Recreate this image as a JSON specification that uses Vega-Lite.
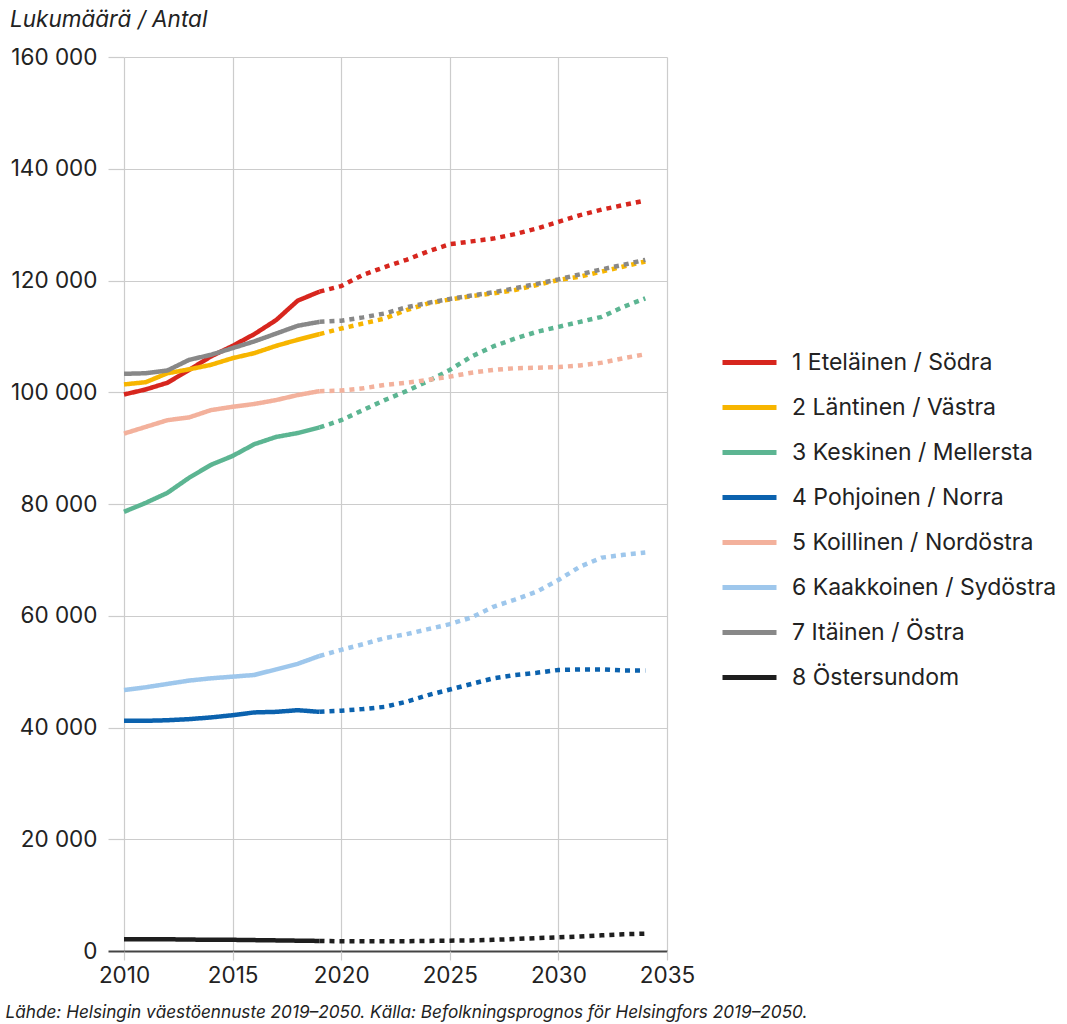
{
  "$schema": "https://vega.github.io/schema/vega-lite/v6.json",
  "autosize": "none",
  "width": 543,
  "height": 894,
  "padding": {"left": 124, "top": 57, "right": 400, "bottom": 73},
  "background": "white",
  "config": {
    "font": "Inter",
    "view": {"stroke": null},
    "title": {"font": "Inter"}
  },
  "title": {
    "text": "Lukumäärä / Antal",
    "anchor": "start",
    "frame": "group",
    "fontStyle": "italic",
    "fontWeight": "normal",
    "fontSize": 22.5,
    "color": "#222222",
    "dx": -114,
    "offset": 15
  },
  "data": {
    "values": [
      {"region": "1 Eteläinen / Södra", "kind": "toteutunut", "year": 2010, "value": 99600},
      {"region": "1 Eteläinen / Södra", "kind": "toteutunut", "year": 2011, "value": 100500},
      {"region": "1 Eteläinen / Södra", "kind": "toteutunut", "year": 2012, "value": 101700},
      {"region": "1 Eteläinen / Södra", "kind": "toteutunut", "year": 2013, "value": 104000},
      {"region": "1 Eteläinen / Södra", "kind": "toteutunut", "year": 2014, "value": 106400},
      {"region": "1 Eteläinen / Södra", "kind": "toteutunut", "year": 2015, "value": 108300},
      {"region": "1 Eteläinen / Södra", "kind": "toteutunut", "year": 2016, "value": 110400},
      {"region": "1 Eteläinen / Södra", "kind": "toteutunut", "year": 2017, "value": 112900},
      {"region": "1 Eteläinen / Södra", "kind": "toteutunut", "year": 2018, "value": 116400},
      {"region": "1 Eteläinen / Södra", "kind": "toteutunut", "year": 2019, "value": 118000},
      {"region": "1 Eteläinen / Södra", "kind": "ennuste", "year": 2019, "value": 118000},
      {"region": "1 Eteläinen / Södra", "kind": "ennuste", "year": 2020, "value": 119000},
      {"region": "1 Eteläinen / Södra", "kind": "ennuste", "year": 2021, "value": 121000},
      {"region": "1 Eteläinen / Södra", "kind": "ennuste", "year": 2022, "value": 122400},
      {"region": "1 Eteläinen / Södra", "kind": "ennuste", "year": 2023, "value": 123700},
      {"region": "1 Eteläinen / Södra", "kind": "ennuste", "year": 2024, "value": 125200},
      {"region": "1 Eteläinen / Södra", "kind": "ennuste", "year": 2025, "value": 126500},
      {"region": "1 Eteläinen / Södra", "kind": "ennuste", "year": 2026, "value": 127000},
      {"region": "1 Eteläinen / Södra", "kind": "ennuste", "year": 2027, "value": 127500},
      {"region": "1 Eteläinen / Södra", "kind": "ennuste", "year": 2028, "value": 128300},
      {"region": "1 Eteläinen / Södra", "kind": "ennuste", "year": 2029, "value": 129300},
      {"region": "1 Eteläinen / Södra", "kind": "ennuste", "year": 2030, "value": 130500},
      {"region": "1 Eteläinen / Södra", "kind": "ennuste", "year": 2031, "value": 131700},
      {"region": "1 Eteläinen / Södra", "kind": "ennuste", "year": 2032, "value": 132700},
      {"region": "1 Eteläinen / Södra", "kind": "ennuste", "year": 2033, "value": 133500},
      {"region": "1 Eteläinen / Södra", "kind": "ennuste", "year": 2034, "value": 134300},

      {"region": "2 Läntinen / Västra", "kind": "toteutunut", "year": 2010, "value": 101400},
      {"region": "2 Läntinen / Västra", "kind": "toteutunut", "year": 2011, "value": 101800},
      {"region": "2 Läntinen / Västra", "kind": "toteutunut", "year": 2012, "value": 103400},
      {"region": "2 Läntinen / Västra", "kind": "toteutunut", "year": 2013, "value": 104100},
      {"region": "2 Läntinen / Västra", "kind": "toteutunut", "year": 2014, "value": 104900},
      {"region": "2 Läntinen / Västra", "kind": "toteutunut", "year": 2015, "value": 106100},
      {"region": "2 Läntinen / Västra", "kind": "toteutunut", "year": 2016, "value": 107000},
      {"region": "2 Läntinen / Västra", "kind": "toteutunut", "year": 2017, "value": 108300},
      {"region": "2 Läntinen / Västra", "kind": "toteutunut", "year": 2018, "value": 109400},
      {"region": "2 Läntinen / Västra", "kind": "toteutunut", "year": 2019, "value": 110400},
      {"region": "2 Läntinen / Västra", "kind": "ennuste", "year": 2019, "value": 110400},
      {"region": "2 Läntinen / Västra", "kind": "ennuste", "year": 2020, "value": 111400},
      {"region": "2 Läntinen / Västra", "kind": "ennuste", "year": 2021, "value": 112300},
      {"region": "2 Läntinen / Västra", "kind": "ennuste", "year": 2022, "value": 113200},
      {"region": "2 Läntinen / Västra", "kind": "ennuste", "year": 2023, "value": 114700},
      {"region": "2 Läntinen / Västra", "kind": "ennuste", "year": 2024, "value": 115900},
      {"region": "2 Läntinen / Västra", "kind": "ennuste", "year": 2025, "value": 116600},
      {"region": "2 Läntinen / Västra", "kind": "ennuste", "year": 2026, "value": 117200},
      {"region": "2 Läntinen / Västra", "kind": "ennuste", "year": 2027, "value": 117700},
      {"region": "2 Läntinen / Västra", "kind": "ennuste", "year": 2028, "value": 118300},
      {"region": "2 Läntinen / Västra", "kind": "ennuste", "year": 2029, "value": 119200},
      {"region": "2 Läntinen / Västra", "kind": "ennuste", "year": 2030, "value": 120100},
      {"region": "2 Läntinen / Västra", "kind": "ennuste", "year": 2031, "value": 120700},
      {"region": "2 Läntinen / Västra", "kind": "ennuste", "year": 2032, "value": 121600},
      {"region": "2 Läntinen / Västra", "kind": "ennuste", "year": 2033, "value": 122500},
      {"region": "2 Läntinen / Västra", "kind": "ennuste", "year": 2034, "value": 123400},

      {"region": "3 Keskinen / Mellersta", "kind": "toteutunut", "year": 2010, "value": 78600},
      {"region": "3 Keskinen / Mellersta", "kind": "toteutunut", "year": 2011, "value": 80200},
      {"region": "3 Keskinen / Mellersta", "kind": "toteutunut", "year": 2012, "value": 82000},
      {"region": "3 Keskinen / Mellersta", "kind": "toteutunut", "year": 2013, "value": 84700},
      {"region": "3 Keskinen / Mellersta", "kind": "toteutunut", "year": 2014, "value": 87000},
      {"region": "3 Keskinen / Mellersta", "kind": "toteutunut", "year": 2015, "value": 88600},
      {"region": "3 Keskinen / Mellersta", "kind": "toteutunut", "year": 2016, "value": 90700},
      {"region": "3 Keskinen / Mellersta", "kind": "toteutunut", "year": 2017, "value": 92000},
      {"region": "3 Keskinen / Mellersta", "kind": "toteutunut", "year": 2018, "value": 92700},
      {"region": "3 Keskinen / Mellersta", "kind": "toteutunut", "year": 2019, "value": 93700},
      {"region": "3 Keskinen / Mellersta", "kind": "ennuste", "year": 2019, "value": 93700},
      {"region": "3 Keskinen / Mellersta", "kind": "ennuste", "year": 2020, "value": 95000},
      {"region": "3 Keskinen / Mellersta", "kind": "ennuste", "year": 2021, "value": 96800},
      {"region": "3 Keskinen / Mellersta", "kind": "ennuste", "year": 2022, "value": 98600},
      {"region": "3 Keskinen / Mellersta", "kind": "ennuste", "year": 2023, "value": 100200},
      {"region": "3 Keskinen / Mellersta", "kind": "ennuste", "year": 2024, "value": 102000},
      {"region": "3 Keskinen / Mellersta", "kind": "ennuste", "year": 2025, "value": 104000},
      {"region": "3 Keskinen / Mellersta", "kind": "ennuste", "year": 2026, "value": 106400},
      {"region": "3 Keskinen / Mellersta", "kind": "ennuste", "year": 2027, "value": 108200},
      {"region": "3 Keskinen / Mellersta", "kind": "ennuste", "year": 2028, "value": 109600},
      {"region": "3 Keskinen / Mellersta", "kind": "ennuste", "year": 2029, "value": 110800},
      {"region": "3 Keskinen / Mellersta", "kind": "ennuste", "year": 2030, "value": 111700},
      {"region": "3 Keskinen / Mellersta", "kind": "ennuste", "year": 2031, "value": 112600},
      {"region": "3 Keskinen / Mellersta", "kind": "ennuste", "year": 2032, "value": 113500},
      {"region": "3 Keskinen / Mellersta", "kind": "ennuste", "year": 2033, "value": 115300},
      {"region": "3 Keskinen / Mellersta", "kind": "ennuste", "year": 2034, "value": 116800},

      {"region": "4 Pohjoinen / Norra", "kind": "toteutunut", "year": 2010, "value": 41200},
      {"region": "4 Pohjoinen / Norra", "kind": "toteutunut", "year": 2011, "value": 41200},
      {"region": "4 Pohjoinen / Norra", "kind": "toteutunut", "year": 2012, "value": 41300},
      {"region": "4 Pohjoinen / Norra", "kind": "toteutunut", "year": 2013, "value": 41500},
      {"region": "4 Pohjoinen / Norra", "kind": "toteutunut", "year": 2014, "value": 41800},
      {"region": "4 Pohjoinen / Norra", "kind": "toteutunut", "year": 2015, "value": 42200},
      {"region": "4 Pohjoinen / Norra", "kind": "toteutunut", "year": 2016, "value": 42700},
      {"region": "4 Pohjoinen / Norra", "kind": "toteutunut", "year": 2017, "value": 42800},
      {"region": "4 Pohjoinen / Norra", "kind": "toteutunut", "year": 2018, "value": 43100},
      {"region": "4 Pohjoinen / Norra", "kind": "toteutunut", "year": 2019, "value": 42800},
      {"region": "4 Pohjoinen / Norra", "kind": "ennuste", "year": 2019, "value": 42800},
      {"region": "4 Pohjoinen / Norra", "kind": "ennuste", "year": 2020, "value": 43000},
      {"region": "4 Pohjoinen / Norra", "kind": "ennuste", "year": 2021, "value": 43300},
      {"region": "4 Pohjoinen / Norra", "kind": "ennuste", "year": 2022, "value": 43700},
      {"region": "4 Pohjoinen / Norra", "kind": "ennuste", "year": 2023, "value": 44600},
      {"region": "4 Pohjoinen / Norra", "kind": "ennuste", "year": 2024, "value": 45800},
      {"region": "4 Pohjoinen / Norra", "kind": "ennuste", "year": 2025, "value": 46800},
      {"region": "4 Pohjoinen / Norra", "kind": "ennuste", "year": 2026, "value": 47800},
      {"region": "4 Pohjoinen / Norra", "kind": "ennuste", "year": 2027, "value": 48800},
      {"region": "4 Pohjoinen / Norra", "kind": "ennuste", "year": 2028, "value": 49400},
      {"region": "4 Pohjoinen / Norra", "kind": "ennuste", "year": 2029, "value": 49800},
      {"region": "4 Pohjoinen / Norra", "kind": "ennuste", "year": 2030, "value": 50300},
      {"region": "4 Pohjoinen / Norra", "kind": "ennuste", "year": 2031, "value": 50400},
      {"region": "4 Pohjoinen / Norra", "kind": "ennuste", "year": 2032, "value": 50400},
      {"region": "4 Pohjoinen / Norra", "kind": "ennuste", "year": 2033, "value": 50200},
      {"region": "4 Pohjoinen / Norra", "kind": "ennuste", "year": 2034, "value": 50200},

      {"region": "5 Koillinen / Nordöstra", "kind": "toteutunut", "year": 2010, "value": 92600},
      {"region": "5 Koillinen / Nordöstra", "kind": "toteutunut", "year": 2011, "value": 93800},
      {"region": "5 Koillinen / Nordöstra", "kind": "toteutunut", "year": 2012, "value": 95000},
      {"region": "5 Koillinen / Nordöstra", "kind": "toteutunut", "year": 2013, "value": 95500},
      {"region": "5 Koillinen / Nordöstra", "kind": "toteutunut", "year": 2014, "value": 96800},
      {"region": "5 Koillinen / Nordöstra", "kind": "toteutunut", "year": 2015, "value": 97400},
      {"region": "5 Koillinen / Nordöstra", "kind": "toteutunut", "year": 2016, "value": 97900},
      {"region": "5 Koillinen / Nordöstra", "kind": "toteutunut", "year": 2017, "value": 98600},
      {"region": "5 Koillinen / Nordöstra", "kind": "toteutunut", "year": 2018, "value": 99500},
      {"region": "5 Koillinen / Nordöstra", "kind": "toteutunut", "year": 2019, "value": 100200},
      {"region": "5 Koillinen / Nordöstra", "kind": "ennuste", "year": 2019, "value": 100200},
      {"region": "5 Koillinen / Nordöstra", "kind": "ennuste", "year": 2020, "value": 100300},
      {"region": "5 Koillinen / Nordöstra", "kind": "ennuste", "year": 2021, "value": 100700},
      {"region": "5 Koillinen / Nordöstra", "kind": "ennuste", "year": 2022, "value": 101300},
      {"region": "5 Koillinen / Nordöstra", "kind": "ennuste", "year": 2023, "value": 101700},
      {"region": "5 Koillinen / Nordöstra", "kind": "ennuste", "year": 2024, "value": 102200},
      {"region": "5 Koillinen / Nordöstra", "kind": "ennuste", "year": 2025, "value": 102800},
      {"region": "5 Koillinen / Nordöstra", "kind": "ennuste", "year": 2026, "value": 103500},
      {"region": "5 Koillinen / Nordöstra", "kind": "ennuste", "year": 2027, "value": 104000},
      {"region": "5 Koillinen / Nordöstra", "kind": "ennuste", "year": 2028, "value": 104300},
      {"region": "5 Koillinen / Nordöstra", "kind": "ennuste", "year": 2029, "value": 104400},
      {"region": "5 Koillinen / Nordöstra", "kind": "ennuste", "year": 2030, "value": 104500},
      {"region": "5 Koillinen / Nordöstra", "kind": "ennuste", "year": 2031, "value": 104800},
      {"region": "5 Koillinen / Nordöstra", "kind": "ennuste", "year": 2032, "value": 105300},
      {"region": "5 Koillinen / Nordöstra", "kind": "ennuste", "year": 2033, "value": 106100},
      {"region": "5 Koillinen / Nordöstra", "kind": "ennuste", "year": 2034, "value": 106800},

      {"region": "6 Kaakkoinen / Sydöstra", "kind": "toteutunut", "year": 2010, "value": 46700},
      {"region": "6 Kaakkoinen / Sydöstra", "kind": "toteutunut", "year": 2011, "value": 47200},
      {"region": "6 Kaakkoinen / Sydöstra", "kind": "toteutunut", "year": 2012, "value": 47800},
      {"region": "6 Kaakkoinen / Sydöstra", "kind": "toteutunut", "year": 2013, "value": 48400},
      {"region": "6 Kaakkoinen / Sydöstra", "kind": "toteutunut", "year": 2014, "value": 48800},
      {"region": "6 Kaakkoinen / Sydöstra", "kind": "toteutunut", "year": 2015, "value": 49100},
      {"region": "6 Kaakkoinen / Sydöstra", "kind": "toteutunut", "year": 2016, "value": 49400},
      {"region": "6 Kaakkoinen / Sydöstra", "kind": "toteutunut", "year": 2017, "value": 50400},
      {"region": "6 Kaakkoinen / Sydöstra", "kind": "toteutunut", "year": 2018, "value": 51400},
      {"region": "6 Kaakkoinen / Sydöstra", "kind": "toteutunut", "year": 2019, "value": 52800},
      {"region": "6 Kaakkoinen / Sydöstra", "kind": "ennuste", "year": 2019, "value": 52800},
      {"region": "6 Kaakkoinen / Sydöstra", "kind": "ennuste", "year": 2020, "value": 53900},
      {"region": "6 Kaakkoinen / Sydöstra", "kind": "ennuste", "year": 2021, "value": 54900},
      {"region": "6 Kaakkoinen / Sydöstra", "kind": "ennuste", "year": 2022, "value": 56000},
      {"region": "6 Kaakkoinen / Sydöstra", "kind": "ennuste", "year": 2023, "value": 56700},
      {"region": "6 Kaakkoinen / Sydöstra", "kind": "ennuste", "year": 2024, "value": 57600},
      {"region": "6 Kaakkoinen / Sydöstra", "kind": "ennuste", "year": 2025, "value": 58500},
      {"region": "6 Kaakkoinen / Sydöstra", "kind": "ennuste", "year": 2026, "value": 59700},
      {"region": "6 Kaakkoinen / Sydöstra", "kind": "ennuste", "year": 2027, "value": 61600},
      {"region": "6 Kaakkoinen / Sydöstra", "kind": "ennuste", "year": 2028, "value": 62900},
      {"region": "6 Kaakkoinen / Sydöstra", "kind": "ennuste", "year": 2029, "value": 64300},
      {"region": "6 Kaakkoinen / Sydöstra", "kind": "ennuste", "year": 2030, "value": 66400},
      {"region": "6 Kaakkoinen / Sydöstra", "kind": "ennuste", "year": 2031, "value": 68800},
      {"region": "6 Kaakkoinen / Sydöstra", "kind": "ennuste", "year": 2032, "value": 70400},
      {"region": "6 Kaakkoinen / Sydöstra", "kind": "ennuste", "year": 2033, "value": 70900},
      {"region": "6 Kaakkoinen / Sydöstra", "kind": "ennuste", "year": 2034, "value": 71300},

      {"region": "7 Itäinen / Östra", "kind": "toteutunut", "year": 2010, "value": 103300},
      {"region": "7 Itäinen / Östra", "kind": "toteutunut", "year": 2011, "value": 103400},
      {"region": "7 Itäinen / Östra", "kind": "toteutunut", "year": 2012, "value": 103900},
      {"region": "7 Itäinen / Östra", "kind": "toteutunut", "year": 2013, "value": 105800},
      {"region": "7 Itäinen / Östra", "kind": "toteutunut", "year": 2014, "value": 106700},
      {"region": "7 Itäinen / Östra", "kind": "toteutunut", "year": 2015, "value": 107900},
      {"region": "7 Itäinen / Östra", "kind": "toteutunut", "year": 2016, "value": 109100},
      {"region": "7 Itäinen / Östra", "kind": "toteutunut", "year": 2017, "value": 110500},
      {"region": "7 Itäinen / Östra", "kind": "toteutunut", "year": 2018, "value": 111900},
      {"region": "7 Itäinen / Östra", "kind": "toteutunut", "year": 2019, "value": 112600},
      {"region": "7 Itäinen / Östra", "kind": "ennuste", "year": 2019, "value": 112600},
      {"region": "7 Itäinen / Östra", "kind": "ennuste", "year": 2020, "value": 112800},
      {"region": "7 Itäinen / Östra", "kind": "ennuste", "year": 2021, "value": 113400},
      {"region": "7 Itäinen / Östra", "kind": "ennuste", "year": 2022, "value": 114100},
      {"region": "7 Itäinen / Östra", "kind": "ennuste", "year": 2023, "value": 115200},
      {"region": "7 Itäinen / Östra", "kind": "ennuste", "year": 2024, "value": 116000},
      {"region": "7 Itäinen / Östra", "kind": "ennuste", "year": 2025, "value": 116700},
      {"region": "7 Itäinen / Östra", "kind": "ennuste", "year": 2026, "value": 117300},
      {"region": "7 Itäinen / Östra", "kind": "ennuste", "year": 2027, "value": 117900},
      {"region": "7 Itäinen / Östra", "kind": "ennuste", "year": 2028, "value": 118600},
      {"region": "7 Itäinen / Östra", "kind": "ennuste", "year": 2029, "value": 119400},
      {"region": "7 Itäinen / Östra", "kind": "ennuste", "year": 2030, "value": 120200},
      {"region": "7 Itäinen / Östra", "kind": "ennuste", "year": 2031, "value": 121100},
      {"region": "7 Itäinen / Östra", "kind": "ennuste", "year": 2032, "value": 122000},
      {"region": "7 Itäinen / Östra", "kind": "ennuste", "year": 2033, "value": 122800},
      {"region": "7 Itäinen / Östra", "kind": "ennuste", "year": 2034, "value": 123700},

      {"region": "8 Östersundom", "kind": "toteutunut", "year": 2010, "value": 2100},
      {"region": "8 Östersundom", "kind": "toteutunut", "year": 2011, "value": 2100},
      {"region": "8 Östersundom", "kind": "toteutunut", "year": 2012, "value": 2100},
      {"region": "8 Östersundom", "kind": "toteutunut", "year": 2013, "value": 2050},
      {"region": "8 Östersundom", "kind": "toteutunut", "year": 2014, "value": 2000},
      {"region": "8 Östersundom", "kind": "toteutunut", "year": 2015, "value": 2000},
      {"region": "8 Östersundom", "kind": "toteutunut", "year": 2016, "value": 1950},
      {"region": "8 Östersundom", "kind": "toteutunut", "year": 2017, "value": 1900},
      {"region": "8 Östersundom", "kind": "toteutunut", "year": 2018, "value": 1850},
      {"region": "8 Östersundom", "kind": "toteutunut", "year": 2019, "value": 1800},
      {"region": "8 Östersundom", "kind": "ennuste", "year": 2019, "value": 1800},
      {"region": "8 Östersundom", "kind": "ennuste", "year": 2020, "value": 1750},
      {"region": "8 Östersundom", "kind": "ennuste", "year": 2021, "value": 1750},
      {"region": "8 Östersundom", "kind": "ennuste", "year": 2022, "value": 1750},
      {"region": "8 Östersundom", "kind": "ennuste", "year": 2023, "value": 1750},
      {"region": "8 Östersundom", "kind": "ennuste", "year": 2024, "value": 1800},
      {"region": "8 Östersundom", "kind": "ennuste", "year": 2025, "value": 1850},
      {"region": "8 Östersundom", "kind": "ennuste", "year": 2026, "value": 1900},
      {"region": "8 Östersundom", "kind": "ennuste", "year": 2027, "value": 2000},
      {"region": "8 Östersundom", "kind": "ennuste", "year": 2028, "value": 2150},
      {"region": "8 Östersundom", "kind": "ennuste", "year": 2029, "value": 2300},
      {"region": "8 Östersundom", "kind": "ennuste", "year": 2030, "value": 2450},
      {"region": "8 Östersundom", "kind": "ennuste", "year": 2031, "value": 2600},
      {"region": "8 Östersundom", "kind": "ennuste", "year": 2032, "value": 2800},
      {"region": "8 Östersundom", "kind": "ennuste", "year": 2033, "value": 3000},
      {"region": "8 Östersundom", "kind": "ennuste", "year": 2034, "value": 3100}
    ]
  },
  "mark": {"type": "line", "strokeWidth": 4.5, "strokeCap": "butt", "strokeJoin": "round"},
  "encoding": {
    "x": {
      "field": "year",
      "type": "quantitative",
      "scale": {"domain": [2010, 2035], "nice": false, "zero": false},
      "axis": {
        "values": [2010, 2015, 2020, 2025, 2030, 2035],
        "format": "d",
        "grid": true,
        "gridColor": "#cccccc",
        "gridWidth": 1.2,
        "domain": false,
        "ticks": true,
        "tickColor": "#cccccc",
        "tickWidth": 1.2,
        "tickSize": 9,
        "labelFont": "Inter",
        "labelFontSize": 22.5,
        "labelColor": "#222222",
        "labelPadding": 4,
        "labelFlush": false,
        "title": "Lähde: Helsingin väestöennuste 2019–2050. Källa: Befolkningsprognos för Helsingfors 2019–2050.",
        "titleFont": "Inter",
        "titleFontStyle": "italic",
        "titleFontWeight": "normal",
        "titleFontSize": 17.2,
        "titleColor": "#222222",
        "titleAnchor": "start",
        "titleAlign": "left",
        "titleBaseline": "middle",
        "titleX": -119,
        "titleY": 61
      }
    },
    "y": {
      "field": "value",
      "type": "quantitative",
      "scale": {"domain": [0, 160000], "nice": false},
      "axis": {
        "values": [0, 20000, 40000, 60000, 80000, 100000, 120000, 140000, 160000],
        "labelExpr": "replace(format(datum.value, ','), ',', ' ')",
        "grid": true,
        "gridColor": {"condition": {"test": "datum.value === 0", "value": "#444444"}, "value": "#cccccc"},
        "gridWidth": {"condition": {"test": "datum.value === 0", "value": 2}, "value": 1.2},
        "domain": false,
        "ticks": true,
        "tickColor": {"condition": {"test": "datum.value === 0", "value": "#444444"}, "value": "#cccccc"},
        "tickWidth": {"condition": {"test": "datum.value === 0", "value": 2}, "value": 1.2},
        "tickSize": 16,
        "labelFont": "Inter",
        "labelFontSize": 22.5,
        "labelColor": "#222222",
        "labelPadding": 11,
        "title": null
      }
    },
    "color": {
      "field": "region",
      "type": "nominal",
      "scale": {
        "domain": ["1 Eteläinen / Södra", "2 Läntinen / Västra", "3 Keskinen / Mellersta", "4 Pohjoinen / Norra", "5 Koillinen / Nordöstra", "6 Kaakkoinen / Sydöstra", "7 Itäinen / Östra", "8 Östersundom"],
        "range": ["#d7261e", "#f7b500", "#5cb592", "#0b62ae", "#f3b19c", "#9ec7ec", "#888888", "#1e1e1e"]
      },
      "legend": {
        "orient": "none",
        "legendX": 596,
        "legendY": 276,
        "title": null,
        "symbolType": "stroke",
        "symbolSize": 2916,
        "symbolStrokeWidth": 5,
        "labelFont": "Inter",
        "labelFontSize": 23,
        "labelColor": "#222222",
        "labelOffset": 13,
        "rowPadding": 3,
        "labelLimit": 400
      }
    },
    "strokeDash": {
      "field": "kind",
      "type": "nominal",
      "scale": {"domain": ["toteutunut", "ennuste"], "range": [[1, 0], [5, 5]]},
      "legend": null
    }
  }
}
